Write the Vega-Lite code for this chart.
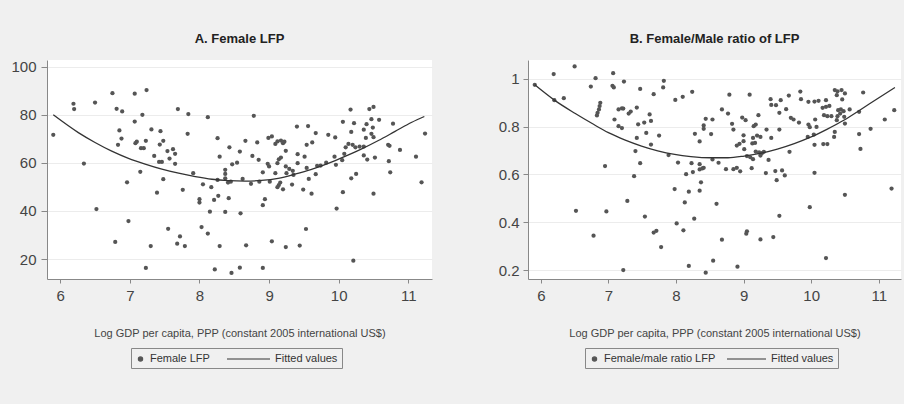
{
  "$schema": "https://vega.github.io/schema/vega-lite/v6.json",
  "background": "#f0f0f0",
  "padding": {"left": 10, "top": 32, "right": 5, "bottom": 36},
  "spacing": 66,
  "datasets": {
    "fl": [
      {"x":5.90,"y":71.7},{"x":6.19,"y":84.6},{"x":6.20,"y":82.4},{"x":6.50,"y":85.1},{"x":6.34,"y":59.7},{"x":6.52,"y":40.8},{"x":6.75,"y":89.0},{"x":7.07,"y":88.8},{"x":7.24,"y":90.3},{"x":6.81,"y":82.5},
      {"x":6.89,"y":81.4},{"x":7.07,"y":77.2},{"x":7.18,"y":80.0},{"x":6.85,"y":73.5},{"x":6.88,"y":70.1},{"x":6.83,"y":67.5},{"x":7.08,"y":68.2},{"x":7.10,"y":68.8},{"x":7.23,"y":69.2},{"x":7.16,"y":66.1},
      {"x":7.20,"y":66.1},{"x":7.31,"y":73.9},{"x":7.44,"y":73.2},{"x":7.48,"y":69.2},{"x":7.43,"y":67.6},{"x":7.35,"y":62.9},{"x":7.42,"y":60.4},{"x":7.46,"y":60.4},{"x":7.54,"y":64.9},{"x":7.62,"y":65.7},
      {"x":7.65,"y":63.8},{"x":7.57,"y":61.8},{"x":7.65,"y":59.6},{"x":7.69,"y":82.4},{"x":7.84,"y":80.3},{"x":7.83,"y":72.1},{"x":8.12,"y":79.0},{"x":8.26,"y":70.3},{"x":8.43,"y":66.5},{"x":8.58,"y":64.7},
      {"x":8.29,"y":62.6},{"x":8.47,"y":59.4},{"x":8.54,"y":60.1},{"x":7.15,"y":56.3},{"x":6.96,"y":51.9},{"x":7.48,"y":53.2},{"x":7.39,"y":47.6},{"x":7.76,"y":48.8},{"x":7.91,"y":55.7},{"x":8.05,"y":51.1},
      {"x":8.17,"y":49.9},{"x":8.26,"y":52.9},{"x":8.37,"y":57.1},{"x":8.37,"y":55.4},{"x":8.37,"y":53.6},{"x":8.41,"y":51.8},{"x":8.45,"y":52.2},{"x":8.00,"y":44.9},{"x":8.00,"y":43.5},{"x":8.21,"y":44.6},
      {"x":8.27,"y":46.3},{"x":8.42,"y":45.3},{"x":8.15,"y":39.7},{"x":8.37,"y":39.6},{"x":8.59,"y":39.0},{"x":6.98,"y":35.8},{"x":6.79,"y":27.1},{"x":7.30,"y":25.4},{"x":7.55,"y":32.6},{"x":7.72,"y":29.4},
      {"x":7.68,"y":26.4},{"x":7.79,"y":25.4},{"x":8.03,"y":33.3},{"x":8.12,"y":30.6},{"x":8.29,"y":25.4},{"x":7.23,"y":16.3},{"x":8.22,"y":15.7},{"x":8.46,"y":14.2},{"x":8.58,"y":16.4},
      {"x":8.78,"y":79.6},{"x":8.66,"y":69.2},{"x":8.76,"y":62.9},{"x":8.83,"y":68.5},{"x":8.85,"y":61.3},{"x":8.62,"y":53.3},{"x":8.74,"y":51.3},{"x":8.86,"y":52.2},{"x":8.91,"y":56.1},{"x":8.98,"y":59.6},
      {"x":9.00,"y":58.5},{"x":8.99,"y":70.4},{"x":9.04,"y":71.0},{"x":9.09,"y":67.9},{"x":9.12,"y":68.9},{"x":9.17,"y":69.3},{"x":9.20,"y":68.2},{"x":9.22,"y":68.8},{"x":9.24,"y":65.0},{"x":9.14,"y":61.5},
      {"x":9.17,"y":62.2},{"x":9.12,"y":59.9},{"x":9.24,"y":58.5},{"x":9.29,"y":57.5},{"x":9.34,"y":56.7},{"x":9.25,"y":55.7},{"x":9.35,"y":55.0},{"x":9.09,"y":55.7},{"x":9.01,"y":52.2},{"x":9.16,"y":51.8},
      {"x":9.14,"y":50.8},{"x":9.12,"y":49.9},{"x":9.20,"y":49.0},{"x":9.33,"y":51.0},{"x":9.40,"y":75.1},{"x":9.56,"y":75.3},{"x":9.67,"y":72.4},{"x":9.54,"y":67.5},{"x":9.62,"y":68.5},{"x":9.41,"y":63.6},
      {"x":9.51,"y":62.6},{"x":9.41,"y":59.9},{"x":9.54,"y":57.9},{"x":9.67,"y":55.3},{"x":9.69,"y":58.8},{"x":9.57,"y":53.3},{"x":9.49,"y":48.9},{"x":9.61,"y":47.2},{"x":9.74,"y":58.9},{"x":9.82,"y":60.1},
      {"x":9.85,"y":71.7},{"x":9.95,"y":70.6},{"x":9.94,"y":62.6},{"x":9.96,"y":59.2},{"x":10.05,"y":61.1},{"x":10.06,"y":77.1},{"x":10.08,"y":63.8},{"x":10.10,"y":66.5},{"x":10.14,"y":67.9},{"x":10.17,"y":82.2},
      {"x":10.18,"y":72.9},{"x":10.22,"y":76.5},{"x":10.20,"y":67.5},{"x":10.24,"y":66.5},{"x":10.30,"y":66.8},{"x":10.18,"y":53.6},{"x":10.25,"y":55.4},{"x":10.06,"y":47.8},{"x":9.97,"y":41.0},{"x":10.40,"y":76.1},
      {"x":10.36,"y":73.8},{"x":10.39,"y":70.4},{"x":10.44,"y":82.4},{"x":10.50,"y":83.3},{"x":10.47,"y":78.2},{"x":10.49,"y":74.7},{"x":10.47,"y":72.1},{"x":10.50,"y":70.7},{"x":10.36,"y":66.8},{"x":10.36,"y":63.1},
      {"x":10.41,"y":61.4},{"x":10.52,"y":62.2},{"x":10.50,"y":47.2},{"x":10.58,"y":77.9},{"x":10.71,"y":67.5},{"x":10.73,"y":67.1},{"x":10.72,"y":60.7},{"x":10.74,"y":56.1},{"x":10.78,"y":76.3},{"x":10.88,"y":65.4},
      {"x":11.11,"y":62.6},{"x":11.19,"y":51.9},{"x":11.24,"y":72.2},{"x":10.21,"y":19.3},{"x":9.53,"y":32.5},{"x":8.67,"y":25.7},{"x":9.04,"y":27.4},{"x":9.24,"y":25.0},{"x":9.44,"y":25.6},{"x":8.91,"y":16.3},
      {"x":8.91,"y":42.4},{"x":8.94,"y":44.9}
    ],
    "flfit": [
      {"x":5.90,"y":80.0},{"x":6.26,"y":72.6},{"x":6.50,"y":68.5},{"x":6.74,"y":64.9},{"x":6.98,"y":61.9},{"x":7.22,"y":59.5},{"x":7.46,"y":57.4},{"x":7.70,"y":55.7},{"x":7.94,"y":54.3},{"x":8.18,"y":53.2},
      {"x":8.42,"y":52.6},{"x":8.65,"y":52.4},{"x":8.89,"y":52.7},{"x":9.13,"y":53.6},{"x":9.37,"y":55.3},{"x":9.61,"y":57.3},{"x":9.85,"y":59.8},{"x":10.09,"y":62.7},{"x":10.33,"y":65.8},{"x":10.57,"y":69.3},
      {"x":10.81,"y":73.1},{"x":11.05,"y":76.9},{"x":11.23,"y":79.3}
    ],
    "ratio": [
      {"x":5.91,"y":0.975},{"x":6.19,"y":1.020},{"x":6.50,"y":1.052},{"x":6.20,"y":0.911},{"x":6.34,"y":0.919},{"x":6.81,"y":1.003},{"x":6.74,"y":0.968},{"x":7.07,"y":1.024},{"x":7.06,"y":0.971},{"x":7.08,"y":0.964},
      {"x":7.23,"y":0.989},{"x":7.47,"y":0.958},{"x":7.67,"y":0.936},{"x":7.82,"y":0.992},{"x":7.81,"y":0.964},{"x":7.99,"y":0.912},{"x":8.10,"y":0.925},{"x":8.24,"y":0.946},{"x":6.88,"y":0.900},{"x":6.87,"y":0.886},
      {"x":6.86,"y":0.872},{"x":6.84,"y":0.858},{"x":6.83,"y":0.847},{"x":7.15,"y":0.872},{"x":7.20,"y":0.877},{"x":7.22,"y":0.876},{"x":7.30,"y":0.855},{"x":7.33,"y":0.863},{"x":7.42,"y":0.880},{"x":7.09,"y":0.830},
      {"x":7.15,"y":0.802},{"x":7.20,"y":0.794},{"x":7.61,"y":0.851},{"x":7.53,"y":0.817},{"x":7.63,"y":0.824},{"x":7.44,"y":0.810},{"x":7.56,"y":0.774},{"x":7.75,"y":0.763},{"x":7.42,"y":0.753},{"x":7.63,"y":0.725},
      {"x":7.40,"y":0.698},{"x":7.47,"y":0.647},{"x":7.89,"y":0.681},{"x":8.44,"y":0.833},{"x":8.41,"y":0.805},{"x":8.41,"y":0.791},{"x":8.28,"y":0.770},{"x":8.52,"y":0.769},{"x":8.35,"y":0.738},{"x":8.54,"y":0.830},
      {"x":8.54,"y":0.663},{"x":8.03,"y":0.650},{"x":8.23,"y":0.647},{"x":8.35,"y":0.643},{"x":8.35,"y":0.621},{"x":8.39,"y":0.625},{"x":8.41,"y":0.628},{"x":8.25,"y":0.610},{"x":8.15,"y":0.601},{"x":7.38,"y":0.593},
      {"x":6.95,"y":0.635},{"x":8.37,"y":0.567},{"x":7.98,"y":0.539},{"x":8.19,"y":0.528},{"x":8.35,"y":0.532},{"x":8.13,"y":0.483},{"x":7.28,"y":0.489},{"x":6.52,"y":0.448},{"x":6.97,"y":0.445},{"x":7.54,"y":0.424},
      {"x":8.01,"y":0.395},{"x":8.11,"y":0.366},{"x":8.27,"y":0.415},{"x":7.67,"y":0.357},{"x":7.71,"y":0.364},{"x":6.78,"y":0.344},{"x":7.78,"y":0.296},{"x":8.55,"y":0.239},{"x":7.22,"y":0.200},{"x":8.19,"y":0.217},
      {"x":8.44,"y":0.189},
      {"x":8.63,"y":0.649},{"x":8.60,"y":0.477},{"x":8.68,"y":0.327},{"x":8.79,"y":0.934},{"x":9.09,"y":0.934},{"x":8.68,"y":0.872},{"x":8.77,"y":0.855},{"x":8.83,"y":0.812},{"x":8.85,"y":0.788},{"x":8.98,"y":0.838},
      {"x":9.03,"y":0.827},{"x":9.00,"y":0.764},{"x":9.15,"y":0.802},{"x":9.18,"y":0.809},{"x":9.22,"y":0.848},{"x":9.14,"y":0.753},{"x":9.20,"y":0.763},{"x":9.25,"y":0.757},{"x":9.13,"y":0.730},{"x":9.17,"y":0.732},
      {"x":9.00,"y":0.739},{"x":8.94,"y":0.728},{"x":8.90,"y":0.721},{"x":9.01,"y":0.706},{"x":9.05,"y":0.677},{"x":9.10,"y":0.672},{"x":9.14,"y":0.664},{"x":9.18,"y":0.696},{"x":9.23,"y":0.692},{"x":9.27,"y":0.689},
      {"x":9.30,"y":0.695},{"x":9.25,"y":0.679},{"x":9.37,"y":0.661},{"x":9.12,"y":0.626},{"x":8.74,"y":0.622},{"x":8.85,"y":0.622},{"x":8.90,"y":0.628},{"x":8.95,"y":0.613},{"x":9.33,"y":0.606},{"x":9.47,"y":0.614},
      {"x":9.57,"y":0.617},{"x":9.61,"y":0.596},{"x":9.49,"y":0.576},{"x":9.34,"y":0.788},{"x":9.41,"y":0.753},{"x":9.53,"y":0.788},{"x":9.40,"y":0.915},{"x":9.41,"y":0.891},{"x":9.48,"y":0.890},{"x":9.55,"y":0.911},
      {"x":9.53,"y":0.858},{"x":9.63,"y":0.873},{"x":9.67,"y":0.930},{"x":9.70,"y":0.837},{"x":9.74,"y":0.830},{"x":9.82,"y":0.817},{"x":9.84,"y":0.947},{"x":9.85,"y":0.915},{"x":9.96,"y":0.904},{"x":10.05,"y":0.905},
      {"x":10.11,"y":0.908},{"x":9.96,"y":0.809},{"x":9.98,"y":0.798},{"x":10.08,"y":0.799},{"x":10.06,"y":0.830},{"x":9.95,"y":0.757},{"x":10.04,"y":0.767},{"x":9.68,"y":0.695},{"x":10.05,"y":0.724},{"x":10.18,"y":0.727},
      {"x":10.24,"y":0.727},{"x":10.05,"y":0.607},{"x":9.98,"y":0.463},{"x":9.53,"y":0.427},{"x":9.05,"y":0.362},{"x":9.04,"y":0.352},{"x":9.25,"y":0.328},{"x":9.44,"y":0.338},{"x":8.91,"y":0.214},{"x":10.22,"y":0.250},
      {"x":10.50,"y":0.515},{"x":11.19,"y":0.541},{"x":10.22,"y":0.911},{"x":10.17,"y":0.879},{"x":10.22,"y":0.883},{"x":10.27,"y":0.887},{"x":10.19,"y":0.848},{"x":10.24,"y":0.844},{"x":10.30,"y":0.844},{"x":10.35,"y":0.778},
      {"x":10.34,"y":0.757},{"x":10.35,"y":0.953},{"x":10.39,"y":0.948},{"x":10.45,"y":0.953},{"x":10.50,"y":0.939},{"x":10.38,"y":0.932},{"x":10.46,"y":0.914},{"x":10.40,"y":0.869},{"x":10.44,"y":0.872},{"x":10.48,"y":0.865},
      {"x":10.43,"y":0.855},{"x":10.39,"y":0.844},{"x":10.38,"y":0.827},{"x":10.49,"y":0.841},{"x":10.50,"y":0.813},{"x":10.57,"y":0.872},{"x":10.71,"y":0.862},{"x":10.77,"y":0.943},{"x":10.71,"y":0.769},{"x":10.73,"y":0.707},
      {"x":10.88,"y":0.791},{"x":11.09,"y":0.830},{"x":11.23,"y":0.869}
    ],
    "ratiofit": [
      {"x":5.91,"y":0.975},{"x":6.20,"y":0.911},{"x":6.51,"y":0.855},{"x":6.76,"y":0.813},{"x":7.00,"y":0.775},{"x":7.24,"y":0.745},{"x":7.49,"y":0.719},{"x":7.73,"y":0.699},{"x":7.98,"y":0.684},{"x":8.22,"y":0.675},
      {"x":8.51,"y":0.670},{"x":8.77,"y":0.670},{"x":9.01,"y":0.677},{"x":9.26,"y":0.689},{"x":9.50,"y":0.706},{"x":9.75,"y":0.729},{"x":10.00,"y":0.757},{"x":10.24,"y":0.790},{"x":10.49,"y":0.828},{"x":10.73,"y":0.871},
      {"x":10.98,"y":0.917},{"x":11.24,"y":0.964}
    ]
  },
  "resolve": {
    "scale": {"color": "independent", "shape": "independent", "size": "independent"},
    "legend": {"color": "independent", "shape": "independent", "size": "independent"}
  },
  "hconcat": [
    {
      "width": 385,
      "height": 219,
      "title": {"text": "A. Female LFP"},
      "layer": [
        {
          "data": {"name": "fl"},
          "mark": {"type": "point", "filled": true, "opacity": 1},
          "encoding": {
            "x": {"field": "x", "type": "quantitative", "scale": {"domain": [5.81, 11.34], "nice": false, "zero": false},
                  "axis": {"values": [6, 7, 8, 9, 10, 11], "format": "d", "grid": false, "tickSize": 4, "labelPadding": 5, "titlePadding": 24,
                           "title": "Log GDP per capita, PPP (constant 2005 international US$)"}},
            "y": {"field": "y", "type": "quantitative", "scale": {"domain": [11.7, 102.8], "nice": false, "zero": false},
                  "axis": {"values": [20, 40, 60, 80, 100], "format": "d", "grid": true, "tickSize": 6, "labelPadding": 5, "title": null}},
            "color": {"datum": "Female LFP", "type": "nominal",
                      "scale": {"domain": ["Female LFP", "Fitted values"], "range": ["#555555", "#333333"]},
                      "legend": {"orient": "none", "legendX": 84, "legendY": 288, "direction": "horizontal", "title": null,
                                 "strokeColor": "#888888", "padding": 4, "columnPadding": 14, "labelFont": "Liberation Sans",
                                 "labelFontSize": 11, "labelColor": "#333333", "labelOffset": 4,
                                 "symbolStrokeColor": "#333333", "symbolStrokeWidth": 1.2, "symbolOpacity": 1,
                                 "encode": {"symbols": {"update": {"y": {"value": 7}}}, "labels": {"update": {"y": {"value": 7}}}}}},
            "shape": {"datum": "Female LFP", "type": "nominal",
                      "scale": {"domain": ["Female LFP", "Fitted values"], "range": ["circle", "stroke"]},
                      "legend": {"orient": "none", "legendX": 84, "legendY": 288, "direction": "horizontal", "title": null}},
            "size": {"datum": "Female LFP", "type": "ordinal",
                     "scale": {"domain": ["Female LFP", "Fitted values"], "range": [18, 1849]},
                     "legend": {"orient": "none", "legendX": 84, "legendY": 288, "direction": "horizontal", "title": null}}
          }
        },
        {
          "data": {"name": "flfit"},
          "mark": {"type": "line", "interpolate": "monotone", "strokeWidth": 1.3},
          "encoding": {
            "x": {"field": "x", "type": "quantitative"},
            "y": {"field": "y", "type": "quantitative"},
            "color": {"datum": "Fitted values", "type": "nominal"}
          }
        }
      ]
    },
    {
      "width": 373,
      "height": 219,
      "title": {"text": "B. Female/Male ratio of LFP"},
      "layer": [
        {
          "data": {"name": "ratio"},
          "mark": {"type": "point", "filled": true, "opacity": 1},
          "encoding": {
            "x": {"field": "x", "type": "quantitative", "scale": {"domain": [5.81, 11.33], "nice": false, "zero": false},
                  "axis": {"values": [6, 7, 8, 9, 10, 11], "format": "d", "grid": false, "tickSize": 4, "labelPadding": 5, "titlePadding": 24,
                           "title": "Log GDP per capita, PPP (constant 2005 international US$)"}},
            "y": {"field": "y", "type": "quantitative", "scale": {"domain": [0.1625, 1.079], "nice": false, "zero": false},
                  "axis": {"values": [0.2, 0.4, 0.6, 0.8, 1], "format": ".1~f", "grid": true, "tickSize": 5, "labelPadding": 4, "title": null}},
            "color": {"datum": "Female/male ratio LFP", "type": "nominal",
                      "scale": {"domain": ["Female/male ratio LFP", "Fitted values"], "range": ["#555555", "#333333"]},
                      "legend": {"orient": "none", "legendX": 57, "legendY": 288, "direction": "horizontal", "title": null,
                                 "strokeColor": "#888888", "padding": 4, "columnPadding": 8, "labelFont": "Liberation Sans",
                                 "labelFontSize": 11, "labelColor": "#333333", "labelOffset": 4,
                                 "symbolStrokeColor": "#333333", "symbolStrokeWidth": 1.2, "symbolOpacity": 1,
                                 "encode": {"symbols": {"update": {"y": {"value": 7}}}, "labels": {"update": {"y": {"value": 7}}}}}},
            "shape": {"datum": "Female/male ratio LFP", "type": "nominal",
                      "scale": {"domain": ["Female/male ratio LFP", "Fitted values"], "range": ["circle", "stroke"]},
                      "legend": {"orient": "none", "legendX": 57, "legendY": 288, "direction": "horizontal", "title": null}},
            "size": {"datum": "Female/male ratio LFP", "type": "ordinal",
                     "scale": {"domain": ["Female/male ratio LFP", "Fitted values"], "range": [18, 1521]},
                     "legend": {"orient": "none", "legendX": 57, "legendY": 288, "direction": "horizontal", "title": null}}
          }
        },
        {
          "data": {"name": "ratiofit"},
          "mark": {"type": "line", "interpolate": "monotone", "strokeWidth": 1.3},
          "encoding": {
            "x": {"field": "x", "type": "quantitative"},
            "y": {"field": "y", "type": "quantitative"},
            "color": {"datum": "Fitted values", "type": "nominal"}
          }
        }
      ]
    }
  ],
  "config": {
    "view": {"fill": "white", "stroke": null},
    "axis": {"domainColor": "#888888", "tickColor": "#888888", "gridColor": "#ececec", "labelFont": "Liberation Sans", "labelFontSize": 15,
             "labelColor": "#444444", "titleFont": "Liberation Sans", "titleFontSize": 11, "titleFontWeight": "normal", "titleColor": "#444444"},
    "title": {"font": "Liberation Sans", "fontSize": 13, "fontWeight": "bold", "color": "#222222", "anchor": "middle", "offset": 14}
  }
}
